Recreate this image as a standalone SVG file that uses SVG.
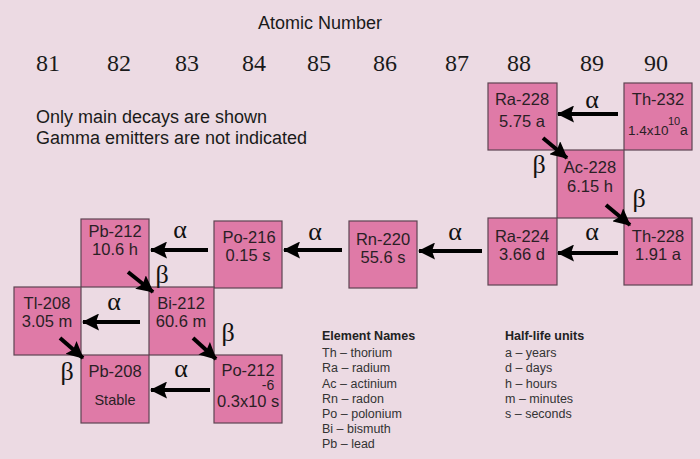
<svg xmlns="http://www.w3.org/2000/svg" width="700" height="459" viewBox="0 0 700 459">
<style>
.bg{fill:#ecdae3}
.box{fill:#df7aa7;stroke:#5e4452;stroke-width:1.2}
.lbl{font-family:"Liberation Sans",Arial,sans-serif;font-size:16.5px;fill:#2a1f25;text-anchor:middle}
.sm{font-family:"Liberation Sans",Arial,sans-serif;fill:#2a1f25}
.num{font-family:"Liberation Serif","Times New Roman",serif;font-size:24px;fill:#1a1a1a;text-anchor:middle}
.title{font-family:"Liberation Sans",Arial,sans-serif;font-size:18px;fill:#1a1a1a}
.greek{font-family:"Liberation Serif","Times New Roman",serif;font-size:26px;fill:#111;text-anchor:middle}
.arr{stroke:#000;stroke-width:4;fill:none;marker-end:url(#ah)}
.leg{font-family:"Liberation Sans",Arial,sans-serif;font-size:12.5px;fill:#333}
.legh{font-family:"Liberation Sans",Arial,sans-serif;font-size:12.5px;font-weight:bold;fill:#222}
</style>
<defs>
<marker id="ah" markerUnits="userSpaceOnUse" markerWidth="17" markerHeight="17" viewBox="0 0 17 17" refX="16" refY="8.5" orient="auto">
<path d="M0,0 L17,8.5 L0,17 L3,8.5 Z" fill="#000"/>
</marker>
</defs>
<rect class="bg" x="0" y="0" width="700" height="459"/>

<text class="title" x="320" y="29" text-anchor="middle">Atomic Number</text>
<g id="numbers">
<text class="num" x="48" y="71">81</text>
<text class="num" x="119" y="71">82</text>
<text class="num" x="187" y="71">83</text>
<text class="num" x="254" y="71">84</text>
<text class="num" x="319" y="71">85</text>
<text class="num" x="385" y="71">86</text>
<text class="num" x="457" y="71">87</text>
<text class="num" x="519" y="71">88</text>
<text class="num" x="592" y="71">89</text>
<text class="num" x="656" y="71">90</text>
</g>

<text class="title" x="36" y="123">Only main decays are shown</text>
<text class="title" x="36" y="144">Gamma emitters are not indicated</text>

<g id="Ra-228"><rect class="box" x="488" y="83" width="69" height="67"/>
<text class="lbl" x="522" y="105">Ra-228</text><text class="lbl" x="522" y="127">5.75 a</text></g>
<g id="Th-232"><rect class="box" x="624" y="83" width="68" height="67"/>
<text class="lbl" x="658" y="105">Th-232</text>
<text class="sm" x="628" y="135" font-size="13.5">1.4x10</text>
<text class="sm" x="668" y="125" font-size="11">10</text>
<text class="sm" x="680" y="135" font-size="14">a</text></g>
<g id="Ac-228"><rect class="box" x="557" y="150" width="67" height="68"/>
<text class="lbl" x="590" y="173">Ac-228</text><text class="lbl" x="590" y="192">6.15 h</text></g>
<g id="Ra-224"><rect class="box" x="488" y="218" width="69" height="67"/>
<text class="lbl" x="522" y="242">Ra-224</text><text class="lbl" x="522" y="260">3.66 d</text></g>
<g id="Th-228"><rect class="box" x="624" y="218" width="68" height="67"/>
<text class="lbl" x="658" y="242">Th-228</text><text class="lbl" x="658" y="260">1.91 a</text></g>
<g id="Rn-220"><rect class="box" x="349" y="221" width="68" height="67"/>
<text class="lbl" x="383" y="245">Rn-220</text><text class="lbl" x="383" y="263">55.6 s</text></g>
<g id="Po-216"><rect class="box" x="214" y="221" width="68" height="67"/>
<text class="lbl" x="249" y="243">Po-216</text><text class="lbl" x="248" y="261">0.15 s</text></g>
<g id="Pb-212"><rect class="box" x="81" y="219" width="68" height="68"/>
<text class="lbl" x="115" y="237">Pb-212</text><text class="lbl" x="115" y="255">10.6 h</text></g>
<g id="Tl-208"><rect class="box" x="14" y="287" width="67" height="68"/>
<text class="lbl" x="47" y="309">Tl-208</text><text class="lbl" x="47" y="327">3.05 m</text></g>
<g id="Bi-212"><rect class="box" x="149" y="287" width="65" height="68"/>
<text class="lbl" x="181" y="309">Bi-212</text><text class="lbl" x="181" y="327">60.6 m</text></g>
<g id="Pb-208"><rect class="box" x="81" y="355" width="68" height="68"/>
<text class="lbl" x="115" y="377">Pb-208</text><text class="sm" x="115" y="405" font-size="14.5" text-anchor="middle">Stable</text></g>
<g id="Po-212"><rect class="box" x="214" y="355" width="68" height="68"/>
<text class="lbl" x="248" y="376">Po-212</text>
<text class="sm" x="268" y="390" font-size="14" text-anchor="middle">-6</text>
<text class="sm" x="217" y="407" font-size="16.5">0.3x10 s</text></g>

<g id="connectors">
<path class="arr" d="M618,114 L558,114"/>
<path class="arr" d="M618,253 L558,253"/>
<path class="arr" d="M482,251 L419,251"/>
<path class="arr" d="M342,250 L284,250"/>
<path class="arr" d="M208,250 L151,250"/>
<path class="arr" d="M140,322 L83,322"/>
<path class="arr" d="M210,390 L151,390"/>
<path class="arr" d="M543,138 L567,158"/>
<path class="arr" d="M606,205 L630,225"/>
<path class="arr" d="M128,272 L153,292"/>
<path class="arr" d="M193,338 L216,359"/>
<path class="arr" d="M60,338 L83,358"/>
<text class="greek" x="592" y="108">α</text>
<text class="greek" x="592" y="240">α</text>
<text class="greek" x="455" y="240">α</text>
<text class="greek" x="315" y="240">α</text>
<text class="greek" x="180" y="238">α</text>
<text class="greek" x="114" y="310">α</text>
<text class="greek" x="181" y="377">α</text>
<text class="greek" x="539" y="173">β</text>
<text class="greek" x="639" y="207">β</text>
<text class="greek" x="162" y="283">β</text>
<text class="greek" x="228" y="341">β</text>
<text class="greek" x="67" y="380">β</text>
</g>

<g id="legend-elements">
<text class="legh" x="322" y="340">Element Names</text>
<text class="leg" x="322" y="357">Th – thorium</text>
<text class="leg" x="322" y="372">Ra – radium</text>
<text class="leg" x="322" y="388">Ac – actinium</text>
<text class="leg" x="322" y="403">Rn – radon</text>
<text class="leg" x="322" y="418">Po – polonium</text>
<text class="leg" x="322" y="433">Bi – bismuth</text>
<text class="leg" x="322" y="448">Pb – lead</text>
</g>
<g id="legend-units">
<text class="legh" x="505" y="340">Half-life units</text>
<text class="leg" x="505" y="357">a – years</text>
<text class="leg" x="505" y="372">d – days</text>
<text class="leg" x="505" y="388">h – hours</text>
<text class="leg" x="505" y="403">m – minutes</text>
<text class="leg" x="505" y="418">s – seconds</text>
</g>
</svg>
